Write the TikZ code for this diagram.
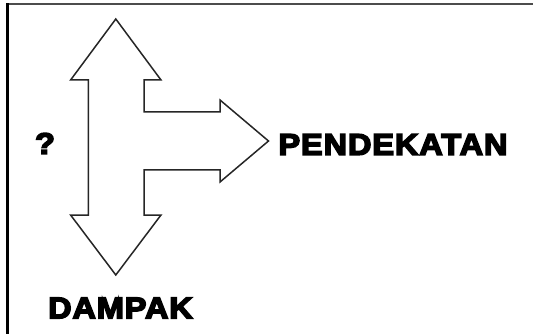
\documentclass[tikz,border=0pt]{standalone}
\usepackage{fontspec}
\newfontfamily\heavy{Liberation Sans}[UprightFont=*-Bold, UprightFeatures={FakeBold=5}, LetterSpace=3]
\tikzset{
  topline/.style={draw=black!70, line width=2pt},
  leftline/.style={draw=black, line width=2.4pt},
  arrowshape/.style={draw=black!85, line width=1.5pt, line join=miter, fill=white},
  bigword/.style={inner sep=0pt, anchor=center, font=\heavy\fontsize{30}{30}\selectfont}
}
\begin{document}
\begin{tikzpicture}[x=1pt,y=-1pt]
\useasboundingbox (0,0) rectangle (533,334);
\fill[white] (0,0) rectangle (533,334);
% frame (top and left edges only)
\coordinate (tr) at (533,4.5);
\coordinate (tl) at (7.5,4.5);
\coordinate (bl) at (7.5,334);
\draw[topline] (tr) -- (tl);
\draw[leftline] (7.5,3.5) -- (bl);
% combined three-way arrow
\draw[arrowshape] (115.8,19) -- (161,80) -- (144,80) -- (144,112) -- (220,112) -- (220,100)
  -- (268.5,141) -- (220,182) -- (220,170) -- (144,170) -- (144,215) -- (161,215)
  -- (115.8,275) -- (70.6,215) -- (88.3,215) -- (88.3,80) -- (70.6,80) -- cycle;
% labels
\node[bigword] (q) at (45,143.5) {\scalebox{1.08}[1]{?}};
\node[bigword] (pend) at (393,144.5) {\scalebox{1.08}[1]{PENDEKATAN}};
\node[bigword] (dampak) at (120.5,308) {\scalebox{1.08}[1]{DAMPAK}};
\end{tikzpicture}
\end{document}
